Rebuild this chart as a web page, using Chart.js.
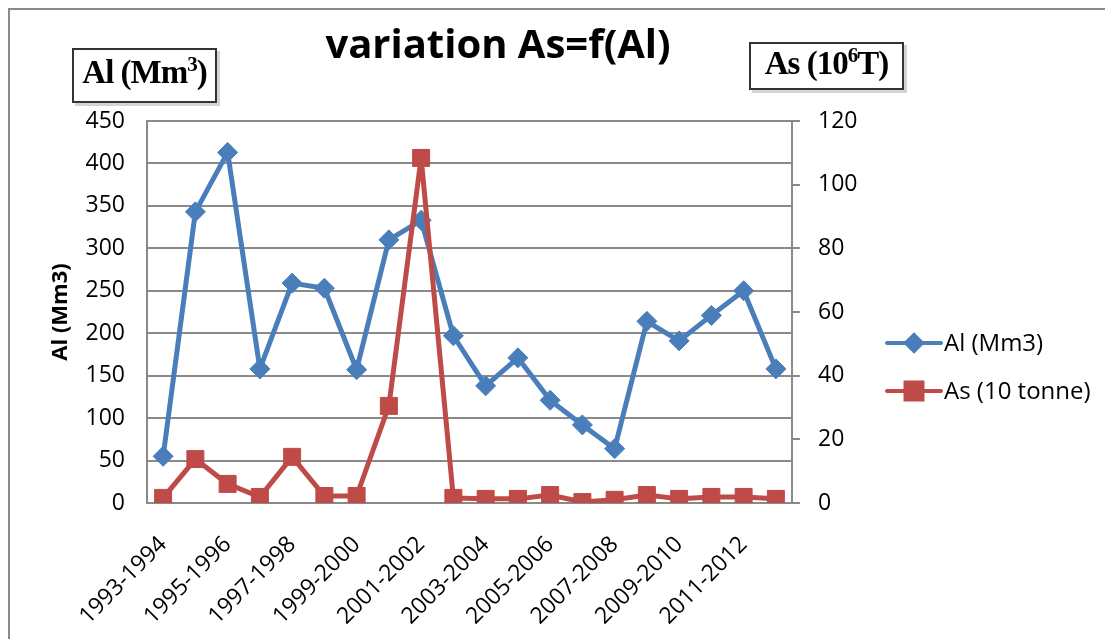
<!DOCTYPE html>
<html>
<head>
<meta charset="utf-8">
<script src="https://cdn.jsdelivr.net/npm/chart.js@4"></script>
<style>
  html, body { margin: 0; padding: 0; background: #fff; overflow: hidden; }
  #frame { position: absolute; left: 8px; top: 8px; width: 1110px; height: 640px; border: 2px solid #8a8a8a; box-sizing: border-box; }
  #chart { position: absolute; left: 0; top: 0; }
  #title { position: absolute; left: 300px; width: 396px; top: 15px; text-align: center;
           font-family: "Open Sans", sans-serif; font-weight: bold; font-size: 40px; color: #000; }
  .unitbox { position: absolute; font-family: "Liberation Serif", serif; font-weight: bold; font-size: 33px;
             color: #000; border: 2.5px solid #333; box-shadow: 3px 3px 0 #d4d4d4; background: #fff;
             box-sizing: border-box; text-align: center; letter-spacing: -1px; white-space: nowrap; }
  .unitbox span { position: absolute; left: 0; right: 0; }
  .unitbox sup { font-size: 21px; line-height: 0; vertical-align: 12px; }
  #boxL { left: 72px; top: 48px; width: 145px; height: 55px; }
  #boxL span { top: 4px; }
  #boxR { left: 749px; top: 42px; width: 155px; height: 48px; }
  #boxR span { top: 1px; }
</style>
</head>
<body>
<div id="frame"></div>
<canvas id="chart" width="1105" height="639"></canvas>
<div id="title">variation As=f(Al)</div>
<div id="boxL" class="unitbox"><span>Al (Mm<sup>3</sup>)</span></div>
<div id="boxR" class="unitbox"><span>As (10<sup>6</sup>T)</span></div>
<script>
"use strict";

var years = ['1993-1994', '1994-1995', '1995-1996', '1996-1997', '1997-1998', '1998-1999', '1999-2000',
	'2000-2001', '2001-2002', '2002-2003', '2003-2004', '2004-2005', '2005-2006', '2006-2007',
	'2007-2008', '2008-2009', '2009-2010', '2010-2011', '2011-2012', '2012-2013'];
var alValues = [55, 343, 413, 158, 259, 253, 157, 310, 333, 197, 138, 171, 121, 92, 64, 214, 191, 221, 250, 158];
var asValues = [1.6, 13.8, 6, 1.9, 14.5, 2.2, 2.2, 30.5, 108.4, 1.6, 1.3, 1.3, 2.5, 0.3, 1, 2.5, 1.3, 1.9, 1.9, 1.3];
var alTicks = [0, 50, 100, 150, 200, 250, 300, 350, 400, 450];
var asTicks = [0, 20, 40, 60, 80, 100, 120];

var blue = '#4A7EBB';
var red = '#BE4B48';
var gridGray = '#8a8a8a';
var tickFont = { family: 'Open Sans', size: 23 };

/*******************
   SIDE LEGEND
*******************/

var sideLegend = {
	id: 'sideLegend',
	afterDraw: function(chart) {
		var ctx = chart.ctx;
		var markerSize = [8, 12];
		chart.data.datasets.forEach(function(ds, i) {
			var y = 343 + i * 48;
			ctx.save();
			ctx.strokeStyle = ds.borderColor;
			ctx.lineWidth = 4;
			ctx.lineCap = 'round';
			ctx.beginPath();
			ctx.moveTo(887, y);
			ctx.lineTo(941, y);
			ctx.stroke();
			ctx.fillStyle = ds.pointBackgroundColor;
			ctx.strokeStyle = ds.pointBorderColor;
			Chart.helpers.drawPoint(ctx, { pointStyle: ds.pointStyle, radius: markerSize[i], borderWidth: 1, rotation: 0 }, 914, y);
			ctx.fillStyle = '#000';
			ctx.font = '24px "Open Sans"';
			ctx.textBaseline = 'middle';
			ctx.fillText(ds.label, 944, y + 1);
			ctx.restore();
		});
	}
};

/*******************
      CHART
*******************/

var ctx = document.getElementById('chart');

var lineChart = new Chart(ctx, {
	type: 'line',
	data: {
		labels: years,
		datasets: [{
			label: 'Al (Mm3)',
			data: alValues,
			yAxisID: 'y',
			order: 1,
			borderColor: blue,
			borderWidth: 5,
			borderJoinStyle: 'round',
			pointStyle: 'rectRot',
			pointRadius: 10,
			pointBackgroundColor: blue,
			pointBorderColor: blue,
			pointBorderWidth: 1,
			tension: 0
		}, {
			label: 'As (10 tonne)',
			data: asValues,
			yAxisID: 'y1',
			order: 0,
			borderColor: red,
			borderWidth: 5,
			borderJoinStyle: 'round',
			pointStyle: 'rect',
			pointRadius: 12,
			pointBackgroundColor: red,
			pointBorderColor: red,
			pointBorderWidth: 1,
			tension: 0
		}]
	},
	options: {
		responsive: false,
		animation: false,
		layout: { padding: { left: 0, top: 121, right: 223, bottom: 0 } },
		plugins: {
			legend: { display: false },
			title: { display: false },
			tooltip: { enabled: false }
		},
		scales: {
			x: {
				offset: true,
				grid: { display: false },
				border: { display: true, color: gridGray, width: 2 },
				ticks: {
					autoSkip: false,
					minRotation: 45,
					maxRotation: 45,
					padding: 20,
					color: '#000',
					font: tickFont,
					callback: function(v, i) { return i % 2 === 0 ? years[i] : ''; }
				},
				afterFit: function(scale) { scale.height = 136; }
			},
			y: {
				position: 'left',
				min: 0,
				max: 450,
				afterBuildTicks: function(scale) { scale.ticks = alTicks.map(function(v) { return { value: v }; }); },
				grid: { color: gridGray, lineWidth: 2, drawTicks: false },
				border: { display: true, color: gridGray, width: 2 },
				ticks: { padding: 22, color: '#000', font: tickFont },
				title: {
					display: true,
					text: 'Al (Mm3)',
					color: '#000',
					font: { family: 'Open Sans', size: 22, weight: 'bold' },
					padding: { top: 48, bottom: 0 }
				},
				afterFit: function(scale) { scale.width = 147; }
			},
			y1: {
				position: 'right',
				min: 0,
				max: 120,
				afterBuildTicks: function(scale) { scale.ticks = asTicks.map(function(v) { return { value: v }; }); },
				grid: { drawOnChartArea: false, color: gridGray, lineWidth: 2, drawTicks: true, tickLength: 8 },
				border: { display: true, color: gridGray, width: 2 },
				ticks: { padding: 18, color: '#000', font: tickFont },
				afterFit: function(scale) { scale.width = 90; }
			}
		}
	},
	plugins: [sideLegend]
});
</script>
</body>
</html>
